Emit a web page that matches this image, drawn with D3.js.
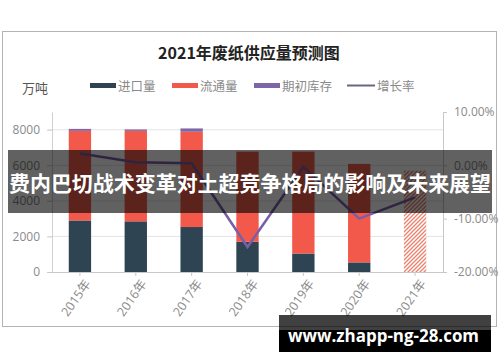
<!DOCTYPE html>
<html>
<head>
<meta charset="utf-8">
<script src="https://cdn.jsdelivr.net/npm/d3@7"></script>
<style>
  body { margin: 0; background: #fff; }
  svg { display: block; font-family: "Noto Sans CJK SC", "Noto Sans", sans-serif; }
</style>
</head>
<body>
<svg class="chart" width="500" height="362"></svg>
<script>
// data
var years = ["2015年", "2016年", "2017年", "2018年", "2019年", "2020年", "2021年"];
var imports = [2900, 2850, 2530, 1700, 1040, 540, 0];       // 进口量
var circulation = [5040, 5090, 5360, 5070, 5730, 5540, 0];  // 流通量
var inventory = [110, 80, 185, 0, 0, 0, 0];                 // 期初库存
var forecast = [0, 0, 0, 0, 0, 0, 5700];                    // 2021 预测 (hatched)
var growth = [0.022, 0.006, 0.004, -0.153, -0.003, -0.10, -0.06]; // 增长率
var leftTicks = [0, 2000, 4000, 6000, 8000];
var rightTicks = [-0.2, -0.1, 0, 0.1];

var colors = {imp: "#2e4453", circ: "#f2594b", inv: "#7d65a8", line: "#7a5fa6"};

var plot = {left: 52, right: 443, top: 112, bottom: 272};

var svg = d3.select(".chart");

var defs = svg.append("defs");
var pat = defs.append("pattern")
  .attr("id", "hatch")
  .attr("patternUnits", "userSpaceOnUse")
  .attr("width", 4).attr("height", 4);
pat.append("rect").attr("width", 4).attr("height", 4).attr("fill", "#fff");
pat.append("path")
  .attr("d", "M-1,1 l2,-2 M0,4 l4,-4 M3,5 l2,-2")
  .attr("stroke", "#e8826f")
  .attr("stroke-width", 1.3);

// frame
svg.append("rect")
  .attr("x", 2.5).attr("y", 31.5)
  .attr("width", 494).attr("height", 295)
  .attr("fill", "#fff")
  .attr("stroke", "#b3b3b3");

svg.append("text")
  .attr("x", 249).attr("y", 59)
  .attr("text-anchor", "middle")
  .style("font-size", "16px")
  .style("font-weight", 700)
  .attr("fill", "#222")
  .text("2021年废纸供应量预测图");

svg.append("text")
  .attr("x", 22).attr("y", 93)
  .style("font-size", "13px")
  .attr("fill", "#555")
  .text("万吨");

// legend
var legendItems = [
  {name: "进口量", color: colors.imp, x: 90, type: "rect"},
  {name: "流通量", color: colors.circ, x: 172, type: "rect"},
  {name: "期初库存", color: colors.inv, x: 254, type: "rect"},
  {name: "增长率", color: colors.line, x: 347, type: "line"}
];
var legend = svg.append("g").attr("class", "legend");
legendItems.forEach(function(d) {
  if (d.type == "rect") {
    legend.append("rect")
      .attr("x", d.x).attr("y", 83)
      .attr("width", 26).attr("height", 5)
      .attr("fill", d.color);
  } else {
    legend.append("line")
      .attr("x1", d.x).attr("x2", d.x + 28)
      .attr("y1", 85.5).attr("y2", 85.5)
      .attr("stroke", "#6e6480")
      .attr("stroke-width", 2);
  }
  legend.append("text")
    .attr("x", d.x + (d.type == "rect" ? 28 : 30)).attr("y", 90.5)
    .style("font-size", "12.5px")
    .attr("fill", "#8a8a8a")
    .text(d.name);
});

var x = d3.scaleBand()
  .domain(years)
  .range([plot.left, plot.right])
  .paddingInner(0.6)
  .paddingOuter(0.3);

var y = d3.scaleLinear().domain([0, 9000]).range([plot.bottom, plot.top]);
var y2 = d3.scaleLinear().domain([-0.2, 0.1]).range([plot.bottom, plot.top]);

// gridlines
svg.append("g")
  .selectAll("line")
  .data(leftTicks.slice(1))
  .enter().append("line")
  .attr("x1", plot.left - 4).attr("x2", plot.right)
  .attr("y1", function(d) { return y(d); })
  .attr("y2", function(d) { return y(d); })
  .attr("stroke", "#e4e4e4");

// left axis
var yAxis = svg.append("g")
  .attr("transform", "translate(" + plot.left + ",0)")
  .call(d3.axisLeft(y).tickValues(leftTicks).tickFormat(d3.format("d"))
    .tickSize(5).tickSizeOuter(0).tickPadding(7));
yAxis.select(".domain").attr("stroke", "#d0d0d0");
yAxis.selectAll(".tick line").attr("stroke", "#d0d0d0");
yAxis.selectAll(".tick text")
  .style("font-size", "12px")
  .style("font-family", "'Open Sans', sans-serif")
  .attr("fill", "#8a8a8a");

// right axis
var y2Axis = svg.append("g")
  .attr("transform", "translate(" + plot.right + ",0)")
  .call(d3.axisRight(y2).tickValues(rightTicks).tickSize(4).tickSizeOuter(0).tickPadding(7)
    .tickFormat(function(d) { return (d * 100).toFixed(2) + "%"; }));
y2Axis.select(".domain").attr("stroke", "#c8c8c8");
y2Axis.selectAll(".tick line").attr("stroke", "#c8c8c8");
y2Axis.selectAll(".tick text")
  .style("font-size", "12px")
  .style("font-family", "'Open Sans', sans-serif")
  .attr("fill", "#8a8a8a");

// stacked bars
var rows = years.map(function(yr, i) {
  return {year: yr, imp: imports[i], circ: circulation[i], inv: inventory[i]};
});
var stack = d3.stack().keys(["imp", "circ", "inv"])(rows);

svg.append("g")
  .selectAll("g")
  .data(stack)
  .enter().append("g")
  .attr("fill", function(d) { return colors[d.key]; })
  .selectAll("rect")
  .data(function(d) { return d; })
  .enter().append("rect")
  .attr("x", function(d) { return x(d.data.year); })
  .attr("width", x.bandwidth())
  .attr("y", function(d) { return y(d[1]); })
  .attr("height", function(d) { return y(d[0]) - y(d[1]); });

// forecast bar
svg.append("g")
  .selectAll("rect")
  .data(years.filter(function(d, i) { return forecast[i] > 0; }))
  .enter().append("rect")
  .attr("x", function(d) { return x(d); })
  .attr("width", x.bandwidth())
  .attr("y", function(d) { return y(forecast[years.indexOf(d)]); })
  .attr("height", function(d) { return y(0) - y(forecast[years.indexOf(d)]); })
  .attr("fill", "url(#hatch)");

// x axis
var xAxis = svg.append("g")
  .attr("transform", "translate(0," + plot.bottom + ")")
  .call(d3.axisBottom(x).tickSize(4).tickSizeOuter(0));
xAxis.select(".domain").attr("d", "M" + (plot.left - 4) + ",0.5H" + (plot.right + 4)).attr("stroke", "#c8c8c8");
xAxis.selectAll(".tick line").attr("stroke", "#c8c8c8");
xAxis.selectAll(".tick text")
  .style("font-size", "12.5px")
  .style("font-family", "'Open Sans', 'Noto Sans CJK SC', sans-serif")
  .attr("fill", "#8a8a8a")
  .style("text-anchor", "end")
  .attr("dy", "0.35em")
  .attr("transform", "translate(4,4) rotate(-55)")
  .attr("x", -2).attr("y", 6);

// growth line
var line = d3.line()
  .x(function(d, i) { return x(years[i]) + x.bandwidth() / 2; })
  .y(function(d) { return y2(d); });
svg.append("path")
  .datum(growth)
  .attr("d", line)
  .attr("fill", "none")
  .attr("stroke", colors.line)
  .attr("stroke-width", 2.5);

// banner overlay
svg.append("rect")
  .attr("x", 8).attr("y", 150)
  .attr("width", 484).attr("height", 63)
  .attr("fill", "rgba(0,0,0,0.62)");
svg.append("text")
  .attr("x", 9).attr("y", 191)
  .attr("textLength", 482)
  .attr("lengthAdjust", "spacingAndGlyphs")
  .style("font-size", "21px")
  .style("font-weight", 700)
  .attr("fill", "#fff")
  .text("费内巴切战术变革对土超竞争格局的影响及未来展望");

// watermark
svg.append("rect")
  .attr("x", 279).attr("y", 315)
  .attr("width", 212).attr("height", 15)
  .attr("fill", "rgba(0,0,0,0.75)");
svg.append("rect")
  .attr("x", 279).attr("y", 330)
  .attr("width", 212).attr("height", 22)
  .attr("fill", "#000");
svg.append("text")
  .attr("x", 288).attr("y", 342)
  .attr("textLength", 191)
  .attr("lengthAdjust", "spacingAndGlyphs")
  .style("font-size", "17px")
  .style("font-weight", 700)
  .style("font-family", "'Open Sans', sans-serif")
  .attr("fill", "#fff")
  .text("www.zhapp-ng-28.com");
</script>
</body>
</html>
